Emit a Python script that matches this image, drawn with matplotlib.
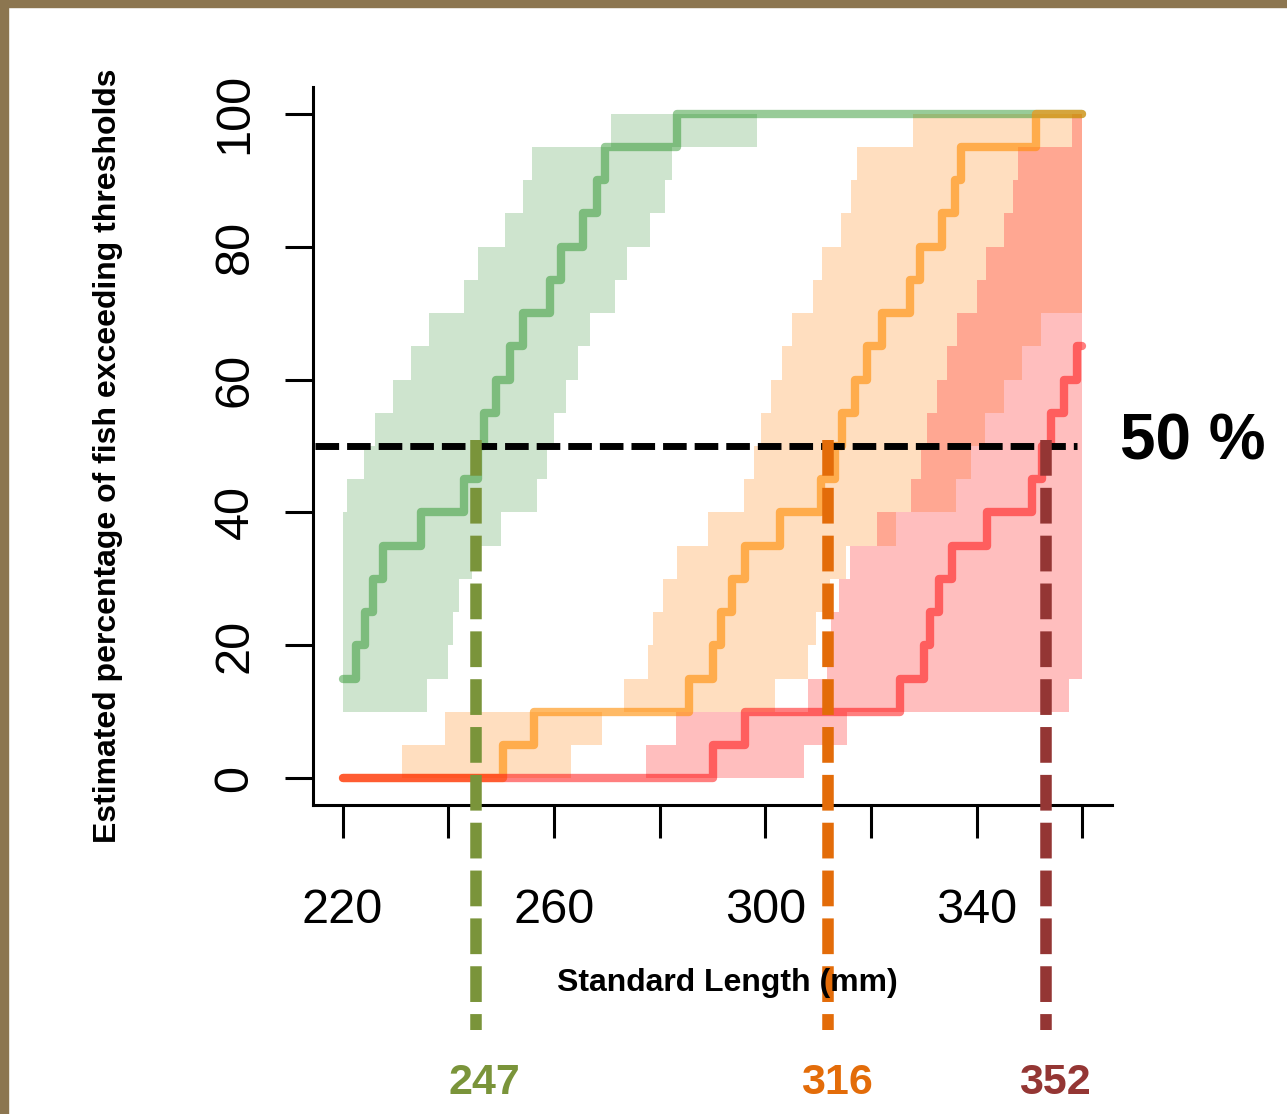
import numpy as np
import matplotlib
matplotlib.use("Agg")
import matplotlib.pyplot as plt
from matplotlib.patches import Rectangle
from matplotlib import font_manager

# ---------------- data ----------------
# step curves (x where step starts, % of fish)
green_x = [220, 222.6, 224.2, 225.7, 227.6, 234.9, 242.9, 245.6, 246.7, 249.1, 251.6,
           254.1, 259.2, 261.4, 265.4, 268.1, 269.6, 283.2, 360]
green_y = [15, 20, 25, 30, 35, 40, 45, 50, 55, 60, 65, 70, 75, 80, 85, 90, 95, 100, 100]

orange_x = [220, 250.3, 256.3, 285.6, 290.0, 291.7, 293.6, 296.1, 302.7, 310.6, 313.1,
            314.6, 316.9, 319.3, 322.0, 327.3, 329.2, 333.5, 335.8, 337.1, 351.3, 360]
orange_y = [0, 5, 10, 15, 20, 25, 30, 35, 40, 45, 50, 55, 60, 65, 70, 75, 80, 85, 90,
            95, 100, 100]

red_x = [220, 290.0, 296.1, 325.4, 330.1, 331.1, 332.9, 335.4, 342.0, 350.4, 352.4,
         354.1, 356.6, 358.9, 360]
red_y = [0, 5, 10, 15, 20, 25, 30, 35, 40, 45, 50, 55, 60, 65, 65]

# confidence bands: lower edge of each 5 % level, and x-range at that level
green_band_y = [10, 15, 20, 25, 30, 35, 40, 45, 50, 55, 60, 65, 70, 75, 80, 85, 90, 95, 100]
green_band_lo = [220.0, 220.0, 220.0, 220.0, 220.0, 220.0, 220.9, 224.0, 226.2, 229.6,
                 232.9, 236.3, 242.9, 245.7, 250.8, 254.1, 255.8, 270.7]
green_band_hi = [235.9, 239.9, 240.8, 242.1, 244.4, 249.9, 256.7, 258.6, 260.1, 262.2,
                 264.5, 266.9, 271.6, 273.9, 278.1, 281.1, 282.4, 298.5]

orange_band_y = [0, 5, 10, 15, 20, 25, 30, 35, 40, 45, 50, 55, 60, 65, 70, 75, 80, 85,
                 90, 95, 100]
orange_band_lo = [231.2, 239.3, 273.2, 277.7, 278.8, 280.7, 283.2, 289.1, 295.9, 297.8,
                  299.1, 301.0, 303.1, 305.1, 309.1, 310.8, 314.4, 316.3, 317.4, 328.0]
orange_band_hi = [263.3, 269.0, 301.9, 308.0, 309.5, 312.2, 315.3, 324.8, 336.0, 339.0,
                  341.5, 345.1, 348.5, 352.2, 360, 360, 360, 360, 360, 360]

red_band_y = [0, 5, 10, 15, 20, 25, 30, 35, 40, 45, 50, 55, 60, 65, 70, 75, 80, 85, 90,
              95, 100]
red_band_lo = [277.5, 283.0, 308.0, 311.6, 312.5, 313.9, 316.1, 321.2, 327.6, 329.4,
               330.5, 332.4, 334.3, 336.2, 340.1, 341.8, 345.1, 346.9, 347.9, 358.1]
red_band_hi = [307.4, 315.4, 357.4, 360, 360, 360, 360, 360, 360, 360, 360, 360, 360,
               360, 360, 360, 360, 360, 360, 360]

threshold = 50
crossing_x = [245.2, 311.9, 353.2]
crossing_labels = ["247", "316", "352"]

x_ticks = [220, 240, 260, 280, 300, 320, 340, 360]
x_tick_labels = ["220", "", "260", "", "300", "", "340", ""]
y_ticks = [0, 20, 40, 60, 80, 100]
y_tick_labels = ["0", "20", "40", "60", "80", "100"]

# ---------------- styling ----------------
available = {f.name for f in font_manager.fontManager.ttflist}
has_narrow = "Liberation Sans Narrow" in available
base = ["Liberation Sans", "DejaVu Sans"]
narrow = (["Liberation Sans Narrow"] + base) if has_narrow else base
plt.rcParams["font.family"] = base

fig = plt.figure(figsize=(12.87, 11.14), dpi=100)
fig.patch.set_facecolor("white")
border = "#8C7650"
fig.patches.append(Rectangle((0, 1 - 7 / 1114), 1, 7 / 1114, transform=fig.transFigure,
                             color=border, zorder=0))
fig.patches.append(Rectangle((0, 0), 8 / 1287, 1, transform=fig.transFigure,
                             color=border, zorder=0))

ax = fig.add_axes([313 / 1287, 1 - 805 / 1114, (1112 - 313) / 1287, (805 - 87) / 1114])
ax.set_xlim(214.4, 365.6)
ax.set_ylim(-4, 104)


def band(yv, lo, hi, color):
    x1 = list(lo) + [lo[-1]]
    x2 = list(hi) + [hi[-1]]
    ax.fill_betweenx(yv, x1, x2, step="post", color=color, alpha=0.3, lw=0, zorder=1)


band(green_band_y, green_band_lo, green_band_hi, (95 / 255, 168 / 255, 95 / 255))
band(orange_band_y, orange_band_lo, orange_band_hi, (1.0, 148 / 255, 45 / 255))
band(red_band_y, red_band_lo, red_band_hi, (1.0, 42 / 255, 42 / 255))

line_kw = dict(where="post", lw=6, solid_capstyle="round", solid_joinstyle="round", zorder=2)
ax.step(green_x, green_y, color=(28 / 255, 141 / 255, 28 / 255), alpha=0.45, **line_kw)
ax.step(orange_x, orange_y, color=(1.0, 140 / 255, 0), alpha=0.6, **line_kw)
ax.step(red_x, red_y, color=(1.0, 0, 0), alpha=0.5, **line_kw)

# 50 % threshold
ax.plot([214.7, 359.0], [threshold, threshold], color="black", lw=5,
        dashes=(3.4, 1.15), dash_capstyle="butt", zorder=3)
ax.text(367.2, threshold + 0.5, "50 %", fontsize=46, fontweight="bold", ha="left",
        va="center", clip_on=False)

# vertical crossing markers
cross_colors = ["#7A943A", "#E36C09", "#943634"]
for xc, lab, col in zip(crossing_x, crossing_labels, cross_colors):
    ax.plot([xc, xc], [50.9, -37.9], color=col, lw=8.3, dashes=(3.1, 1.05),
            dash_capstyle="butt", clip_on=False, zorder=5)
    ax.text(xc + 1.6, -45.8, lab, color=col, ha="center", va="center",
            fontsize=36 if has_narrow else 31, fontweight="bold", family=narrow,
            clip_on=False)

# axes
for s in ["top", "right"]:
    ax.spines[s].set_visible(False)
for s in ["left", "bottom"]:
    ax.spines[s].set_linewidth(2.2)

ax.set_xticks(x_ticks)
ax.set_xticklabels(x_tick_labels, fontsize=39 if has_narrow else 35, family=narrow)
ax.set_yticks(y_ticks)
ax.set_yticklabels(y_tick_labels, fontsize=35)
ax.tick_params(axis="x", length=24, width=2.2, pad=36)
ax.tick_params(axis="y", length=20, width=2.2, pad=20, labelrotation=90)
for t in ax.get_yticklabels():
    t.set_va("center")

fig.text(727 / 1287, 1 - 983 / 1114, "Standard Length (mm)", fontsize=23,
         fontweight="bold", ha="center", va="center", zorder=10)
fig.text(108 / 1287, 1 - 456 / 1114, "Estimated percentage of fish exceeding thresholds",
         fontsize=23, fontweight="bold", ha="center", va="center", rotation=90)

fig.savefig("out.png", dpi=100)
